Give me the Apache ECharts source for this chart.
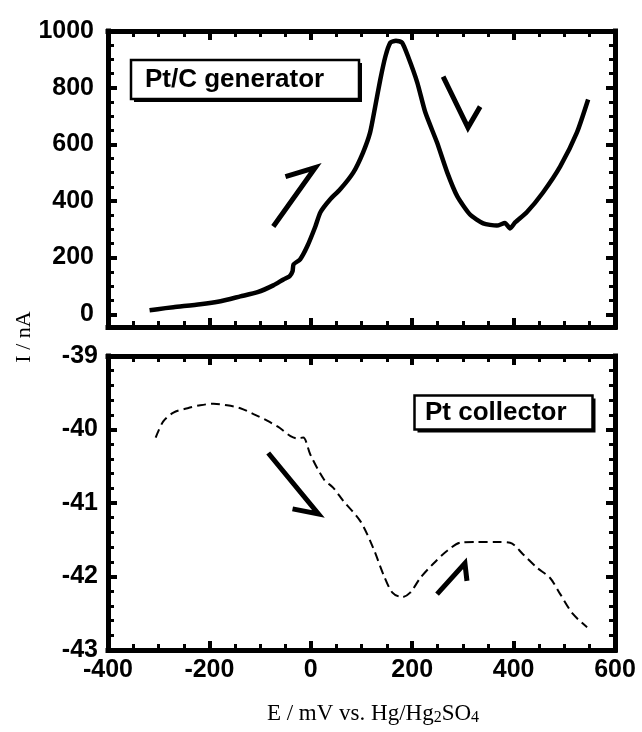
<!DOCTYPE html>
<html>
<head>
<meta charset="utf-8">
<script src="https://cdn.jsdelivr.net/npm/echarts@6/dist/echarts.min.js"></script>
<style>
  html, body { margin: 0; padding: 0; background: #fff; }
  #main { width: 642px; height: 732px; }
</style>
</head>
<body>
<div id="main"></div>
<script>
// Pt/C generator current (nA) vs potential (mV vs Hg/Hg2SO4)
const genE = [-318, -302, -271, -218, -178, -139, -105, -74, -54, -42, -36, -34, -21, -7, 9, 19, 38, 58, 84, 103, 117, 127, 137, 147, 157, 168, 180, 192, 210, 226, 249, 269, 289, 314, 340, 367, 383, 393, 403, 426, 458, 492, 525, 547];
const genI = [14, 18, 25, 35, 46, 63, 78, 102, 123, 134, 152, 176, 194, 240, 310, 360, 405, 441, 501, 571, 642, 733, 828, 909, 959, 966, 959, 909, 818, 712, 606, 501, 416, 352, 321, 313, 322, 303, 324, 360, 430, 522, 642, 758];

// Pt collector current (nA)
const colE = [-306, -291, -271, -243, -218, -192, -165, -139, -113, -86, -61, -40, -27, -15, -1, 26, 44, 64, 98, 123, 143, 161, 180, 196, 216, 241, 269, 295, 328, 367, 393, 419, 446, 472, 492, 517, 545];
const colI = [-40.11, -39.89, -39.77, -39.71, -39.67, -39.65, -39.67, -39.71, -39.79, -39.88, -39.98, -40.09, -40.12, -40.11, -40.34, -40.68, -40.79, -40.97, -41.25, -41.61, -41.97, -42.22, -42.28, -42.22, -42.02, -41.83, -41.65, -41.54, -41.53, -41.53, -41.54, -41.70, -41.88, -42.02, -42.24, -42.51, -42.69];

// sweep direction arrows (data coords)
const arrowGenUpE = [-50, 9, -74];
const arrowGenUpI = [486, 518, 310];
const arrowGenDownE = [261, 310, 334];
const arrowGenDownI = [839, 659, 733];
const arrowColDownE = [-84, 15, -36];
const arrowColDownI = [-40.32, -41.15, -41.08];
const arrowColUpE = [249, 304, 308];
const arrowColUpI = [-42.24, -41.82, -42.06];

// axis ticks
const genTicks = [0, 200, 400, 600, 800, 1000];
const genMinor = [];
for (let v = 50; v < 1000; v += 50) {
  if (v % 200 !== 0) genMinor.push(v);
}

function zip(a, b) {
  return a.map(function (v, i) { return [v, b[i]]; });
}

const black = '#000';
const labelFont = {
  color: black,
  fontFamily: '"Liberation Sans", Arial, sans-serif',
  fontWeight: 'bold',
  fontSize: 25,
  formatter: function (v) { return String(v); }
};
const frameLine = { onZero: false, lineStyle: { color: black, width: 5, cap: 'square' } };
const majorTick = { inside: true, length: 9, lineStyle: { color: black, width: 4 } };

function xAxisFor(grid, pos, labels) {
  return {
    type: 'value', gridIndex: grid, position: pos,
    min: -400, max: 600, interval: 200,
    axisLine: frameLine,
    axisTick: majorTick,
    minorTick: { show: true, splitNumber: 4, length: 6, lineStyle: { color: black, width: 3 } },
    axisLabel: labels ? Object.assign({ margin: 8 }, labelFont) : { show: false },
    splitLine: { show: false }
  };
}

function genYAxis(pos, minor, labels) {
  const vals = minor ? genMinor : genTicks;
  return {
    type: 'value', gridIndex: 0, position: pos,
    min: -45, max: 1000,
    axisLine: minor ? { show: false, onZero: false } : frameLine,
    axisTick: {
      inside: true, customValues: vals, length: minor ? 6 : 9,
      lineStyle: { color: black, width: minor ? 3 : 4 }
    },
    axisLabel: labels ? Object.assign({ margin: 14, customValues: genTicks }, labelFont) : { show: false },
    splitLine: { show: false }
  };
}

function colYAxis(pos, labels) {
  return {
    type: 'value', gridIndex: 1, position: pos,
    min: -43, max: -39, interval: 1,
    axisLine: frameLine,
    axisTick: majorTick,
    minorTick: { show: true, splitNumber: 5, length: 6, lineStyle: { color: black, width: 3 } },
    axisLabel: labels ? Object.assign({ margin: 10 }, labelFont) : { show: false },
    splitLine: { show: false }
  };
}

function arrow(x, y, xi, yi) {
  return {
    type: 'line', xAxisIndex: xi, yAxisIndex: yi,
    data: zip(x, y), showSymbol: false, silent: true,
    lineStyle: { color: black, width: 5, join: 'miter', cap: 'butt' }
  };
}

const chart = echarts.init(document.getElementById('main'));

const option = {
  backgroundColor: '#fff',
  animation: false,
  grid: [
    { left: 108, top: 31, width: 507, height: 296 },
    { left: 108, top: 356, width: 507, height: 294 }
  ],
  xAxis: [
    xAxisFor(0, 'bottom', false),
    xAxisFor(0, 'top', false),
    xAxisFor(1, 'bottom', true),
    xAxisFor(1, 'top', false)
  ],
  yAxis: [
    genYAxis('left', false, true),
    genYAxis('left', true, false),
    genYAxis('right', false, false),
    genYAxis('right', true, false),
    colYAxis('left', true),
    colYAxis('right', false)
  ],
  series: [
    {
      name: 'Pt/C generator', type: 'line', xAxisIndex: 0, yAxisIndex: 0,
      data: zip(genE, genI), showSymbol: false, smooth: 0.2,
      lineStyle: { color: black, width: 4.5 }
    },
    arrow(arrowGenUpE, arrowGenUpI, 0, 0),
    arrow(arrowGenDownE, arrowGenDownI, 0, 0),
    {
      name: 'Pt collector', type: 'line', xAxisIndex: 2, yAxisIndex: 4,
      data: zip(colE, colI), showSymbol: false, smooth: 0.3,
      lineStyle: { color: black, width: 2, type: [9, 5] }
    },
    arrow(arrowColDownE, arrowColDownI, 2, 4),
    arrow(arrowColUpE, arrowColUpI, 2, 4)
  ],
  graphic: [
    // panel tags with a drop shadow
    { type: 'rect', shape: { x: 134, y: 63, width: 228, height: 39 }, style: { fill: black }, z: 10 },
    { type: 'rect', shape: { x: 131, y: 60, width: 228, height: 39 }, style: { fill: '#fff', stroke: black, lineWidth: 2.5 }, z: 11 },
    {
      type: 'text', x: 145, y: 80, z: 12,
      style: { text: 'Pt/C generator', fill: black, font: 'bold 26px "Liberation Sans", Arial, sans-serif', verticalAlign: 'middle' }
    },
    { type: 'rect', shape: { x: 417.5, y: 398.5, width: 178, height: 34 }, style: { fill: black }, z: 10 },
    { type: 'rect', shape: { x: 414.5, y: 395.5, width: 178, height: 34 }, style: { fill: '#fff', stroke: black, lineWidth: 2.5 }, z: 11 },
    {
      type: 'text', x: 425, y: 413, z: 12,
      style: { text: 'Pt collector', fill: black, font: 'bold 26px "Liberation Sans", Arial, sans-serif', verticalAlign: 'middle' }
    },
    // axis titles
    {
      type: 'text', x: 24, y: 337, rotation: Math.PI / 2,
      style: { text: 'I / nA', fill: black, font: '22px "Liberation Serif", "Times New Roman", serif', align: 'center', verticalAlign: 'middle' }
    },
    {
      type: 'text', x: 373, y: 714,
      style: {
        text: '{a|E / mV vs. Hg/Hg}{s|2}{a|SO}{s|4}',
        align: 'center', verticalAlign: 'middle',
        rich: {
          a: { fill: black, fontSize: 23, fontFamily: '"Liberation Serif", "Times New Roman", serif', lineHeight: 24 },
          s: { fill: black, fontSize: 16, fontFamily: '"Liberation Serif", "Times New Roman", serif', lineHeight: 8, verticalAlign: 'bottom' }
        }
      }
    }
  ]
};

chart.setOption(option);
</script>
</body>
</html>
